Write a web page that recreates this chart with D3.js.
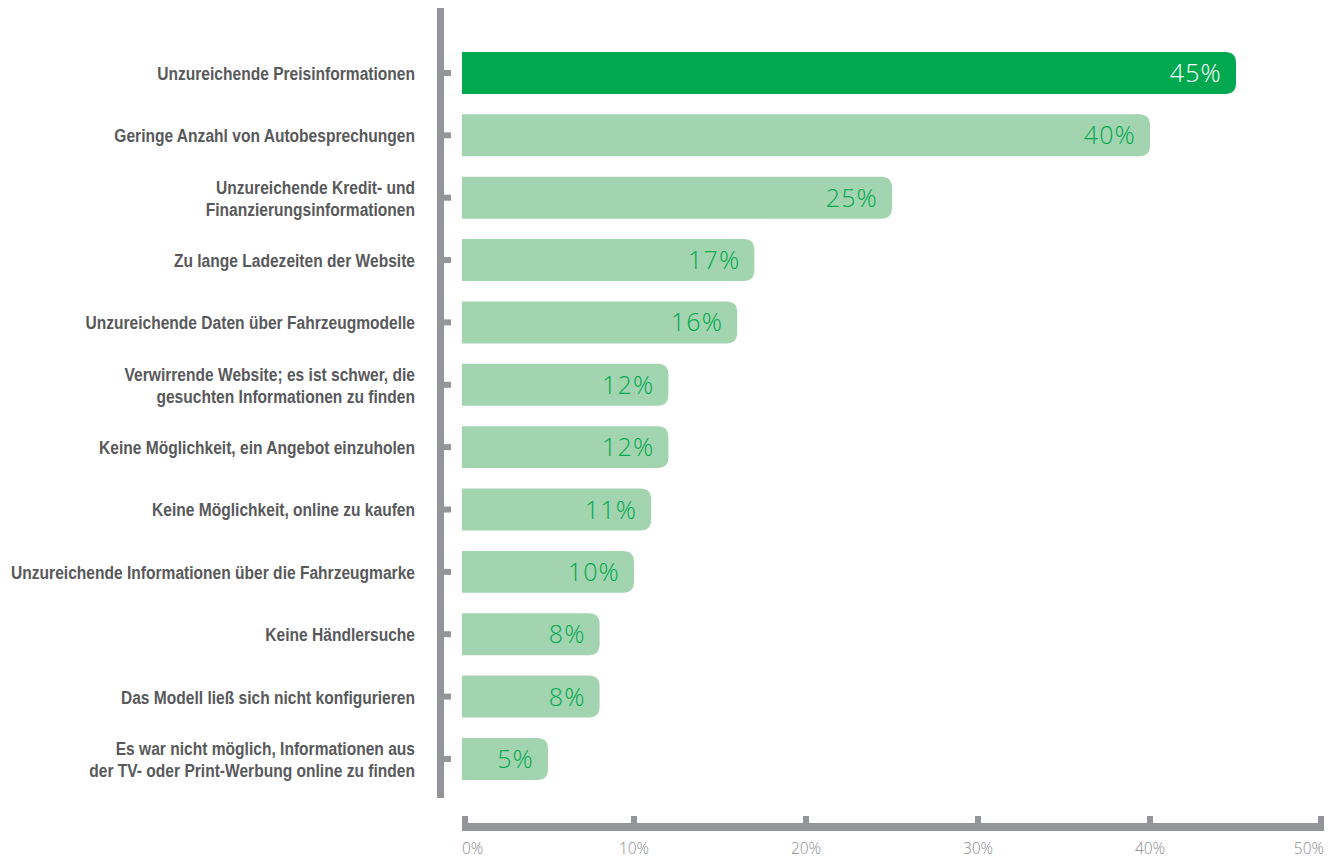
<!DOCTYPE html>
<html>
<head>
<meta charset="utf-8">
<script src="https://cdn.jsdelivr.net/npm/d3@7"></script>
<style>
  html, body { margin: 0; padding: 0; background: #ffffff; }
  svg { display: block; }
</style>
</head>
<body>
<svg id="chart" width="1332" height="858"></svg>
<script>
// Reasons for dissatisfaction with car websites (share of respondents, %)
const categories = [
  ["Unzureichende Preisinformationen"],
  ["Geringe Anzahl von Autobesprechungen"],
  ["Unzureichende Kredit- und", "Finanzierungsinformationen"],
  ["Zu lange Ladezeiten der Website"],
  ["Unzureichende Daten über Fahrzeugmodelle"],
  ["Verwirrende Website; es ist schwer, die", "gesuchten Informationen zu finden"],
  ["Keine Möglichkeit, ein Angebot einzuholen"],
  ["Keine Möglichkeit, online zu kaufen"],
  ["Unzureichende Informationen über die Fahrzeugmarke"],
  ["Keine Händlersuche"],
  ["Das Modell ließ sich nicht konfigurieren"],
  ["Es war nicht möglich, Informationen aus", "der TV- oder Print-Werbung online zu finden"]
];
const values = [45, 40, 25, 17, 16, 12, 12, 11, 10, 8, 8, 5];
const tickValues = [0, 10, 20, 30, 40, 50];
const tickLabels = ["0%", "10%", "20%", "30%", "40%", "50%"];

const GREEN = "#00a94f";
const LIGHT_GREEN = "#a3d4b0";
const GREY = "#939598";
const LABEL_GREY = "#58595b";

const svg = d3.select("#chart");

const x = d3.scaleLinear().domain([0, 50]).range([462, 1322]);
const y = d3.scaleBand()
  .domain(d3.range(values.length))
  .range([41.8, 41.8 + 62.36 * values.length])
  .paddingInner(0.327)
  .paddingOuter(0.1635);

// Bar with square left end and rounded right corners
function barPath(x0, x1, y0, h, r) {
  const rr = Math.min(r, (x1 - x0), h / 2);
  return `M${x0},${y0}H${x1 - rr}Q${x1},${y0} ${x1},${y0 + rr}` +
         `V${y0 + h - rr}Q${x1},${y0 + h} ${x1 - rr},${y0 + h}H${x0}Z`;
}

// Vertical category axis
svg.append("rect")
  .attr("x", 437).attr("y", 8)
  .attr("width", 7).attr("height", 790)
  .attr("fill", GREY);

const rows = svg.append("g").selectAll("g")
  .data(values)
  .join("g");

rows.append("rect")
  .attr("x", 444)
  .attr("y", (d, i) => y(i) + y.bandwidth() / 2 - 3)
  .attr("width", 7).attr("height", 6)
  .attr("fill", GREY);

rows.append("path")
  .attr("d", (d, i) => barPath(x(0), x(d), y(i), y.bandwidth(), 11))
  .attr("fill", (d, i) => i === 0 ? GREEN : LIGHT_GREEN);

rows.append("text")
  .attr("x", d => x(d) - 14)
  .attr("y", (d, i) => y(i) + y.bandwidth() / 2 + 9)
  .attr("text-anchor", "end")
  .attr("font-family", "'Open Sans', Lato, sans-serif")
  .attr("font-weight", 300)
  .attr("font-size", 25)
  .attr("letter-spacing", 1.2)
  .attr("fill", (d, i) => i === 0 ? "#ffffff" : GREEN)
  .text(d => d + "%");

// Category labels (one or two lines), set in a condensed bold face
rows.append("text")
  .attr("transform", "translate(415,0) scale(0.82,1)")
  .attr("text-anchor", "end")
  .attr("font-family", "'Liberation Sans', Arial, sans-serif")
  .attr("font-weight", 700)
  .attr("font-size", 19)
  .attr("fill", LABEL_GREY)
  .each(function(d, i) {
    const lines = categories[i];
    const cy = y(i) + y.bandwidth() / 2;
    const lh = 22;
    const start = cy - (lines.length - 1) * lh / 2 + 7;
    d3.select(this).selectAll("tspan")
      .data(lines)
      .join("tspan")
      .attr("x", 0)
      .attr("y", (l, j) => start + j * lh)
      .text(l => l);
  });

// Horizontal value axis
svg.append("rect")
  .attr("x", 462).attr("y", 823)
  .attr("width", 862).attr("height", 8)
  .attr("fill", GREY);

const ticks = svg.append("g").selectAll("g")
  .data(tickValues)
  .join("g");

ticks.append("rect")
  .attr("x", d => Math.max(462, Math.min(1318, x(d) - 3)))
  .attr("y", 816)
  .attr("width", 6).attr("height", 8)
  .attr("fill", GREY);

ticks.append("text")
  .attr("x", (d, i) => i === 0 ? 462 : i === tickValues.length - 1 ? 1324 : x(d))
  .attr("y", 854)
  .attr("text-anchor", (d, i) => i === 0 ? "start" : i === tickValues.length - 1 ? "end" : "middle")
  .attr("font-family", "'Open Sans', Lato, sans-serif")
  .attr("font-weight", 300)
  .attr("font-size", 15.5)
  .attr("fill", "#8a8b8e")
  .text((d, i) => tickLabels[i]);
</script>
</body>
</html>
